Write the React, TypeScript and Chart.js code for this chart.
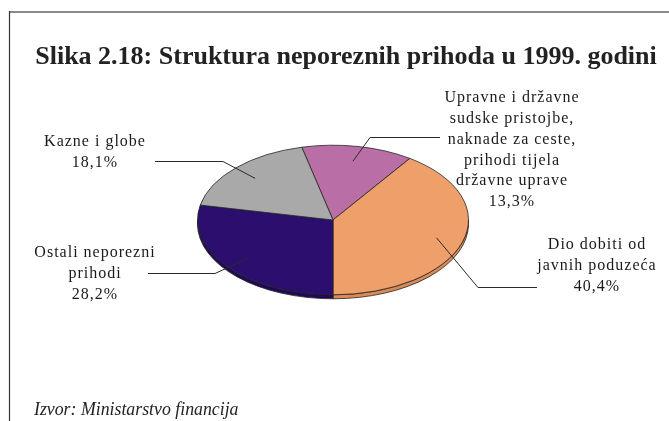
import React, { useEffect, useRef } from "react";
import { Chart, registerables } from "chart.js";

Chart.register(...registerables);

const title = "Slika 2.18: Struktura neporeznih prihoda u 1999. godini";
const source = "Izvor: Ministarstvo financija";

const categories = [
  "Upravne i državne sudske pristojbe, naknade za ceste, prihodi tijela državne uprave",
  "Dio dobiti od javnih poduzeća",
  "Ostali neporezni prihodi",
  "Kazne i globe",
];
const categoryLines = [
  ["Upravne i državne", "sudske pristojbe,", "naknade za ceste,", "prihodi tijela", "državne uprave"],
  ["Dio dobiti od", "javnih poduzeća"],
  ["Ostali neporezni", "prihodi"],
  ["Kazne i globe"],
];
const values = [13.3, 40.4, 28.2, 18.1];
const colors = ["#B96FA6", "#EE9F6A", "#2B0E6E", "#A9A9A9"];
const sideColors = ["#9E5A8C", "#D98A56", "#20085A", "#8F8F8F"];

// layout (label positions & leader line elbows), not data
const labelLayout = [
  { x: 512, y: 98, elbow: [370, 137], end: [440, 137] },
  { x: 597, y: 245, elbow: [478, 287], end: [537, 287] },
  { x: 95, y: 253, elbow: [215, 273], end: [148, 273] },
  { x: 95, y: 142, elbow: [223, 161], end: [155, 161] },
];

const SQUASH = 0.552;
const DEPTH = 4;
const LINE_H = 20.8;
const FONT = "'Liberation Serif', 'DejaVu Serif', serif";

const fmt = (v: number) => v.toFixed(1).replace(".", ",") + "%";

const pie3d = {
  id: "pie3d",
  beforeDatasetsDraw(chart: any) {
    const ctx = chart.ctx;
    const meta = chart.getDatasetMeta(0);
    const arcs = meta.data;
    if (!arcs.length) return;
    const cx = arcs[0].x;
    const cy = arcs[0].y;
    const r = arcs[0].outerRadius;
    ctx.save();
    arcs.forEach((arc: any, i: number) => {
      const a0 = arc.startAngle;
      const a1 = arc.endAngle;
      for (let k = -2; k <= 2; k++) {
        const lo = Math.max(a0, 2 * Math.PI * k);
        const hi = Math.min(a1, 2 * Math.PI * k + Math.PI);
        if (lo >= hi) continue;
        ctx.beginPath();
        ctx.ellipse(cx, cy, r, r * SQUASH, 0, lo, hi, false);
        ctx.ellipse(cx, cy + DEPTH, r, r * SQUASH, 0, hi, lo, true);
        ctx.closePath();
        ctx.fillStyle = sideColors[i];
        ctx.fill();
        ctx.strokeStyle = "#222";
        ctx.lineWidth = 0.8;
        ctx.stroke();
      }
    });
    ctx.restore();
    ctx.save();
    ctx.translate(0, cy);
    ctx.scale(1, SQUASH);
    ctx.translate(0, -cy);
  },
  afterDatasetsDraw(chart: any) {
    const ctx = chart.ctx;
    ctx.restore();
    const meta = chart.getDatasetMeta(0);
    const arcs = meta.data;
    const cx = arcs[0].x;
    const cy = arcs[0].y;
    const r = arcs[0].outerRadius;

    // leader lines
    ctx.save();
    ctx.strokeStyle = "#2a2a2a";
    ctx.lineWidth = 1;
    arcs.forEach((arc: any, i: number) => {
      const m = (arc.startAngle + arc.endAngle) / 2;
      const ax = cx + 0.8 * r * Math.cos(m);
      const ay = cy + 0.8 * r * SQUASH * Math.sin(m);
      const L = labelLayout[i];
      ctx.beginPath();
      ctx.moveTo(ax, ay);
      ctx.lineTo(L.elbow[0], L.elbow[1] + 0.5);
      ctx.lineTo(L.end[0], L.end[1] + 0.5);
      ctx.stroke();
    });
    ctx.restore();

    // labels
    ctx.save();
    ctx.fillStyle = "#1a1a1a";
    ctx.font = `16px ${FONT}`;
    ctx.textAlign = "center";
    ctx.textBaseline = "middle";
    (ctx as any).letterSpacing = "1px";
    arcs.forEach((_arc: any, i: number) => {
      const L = labelLayout[i];
      const lines = [...categoryLines[i], fmt(values[i])];
      lines.forEach((t, j) => ctx.fillText(t, L.x, L.y + j * LINE_H));
    });
    ctx.restore();

    // title, source and frame
    ctx.save();
    (ctx as any).letterSpacing = "0px";
    ctx.fillStyle = "#222";
    ctx.font = `bold 26px ${FONT}`;
    ctx.textAlign = "center";
    ctx.textBaseline = "alphabetic";
    ctx.fillText(title, 346, 64);
    ctx.font = `italic 17.8px ${FONT}`;
    ctx.textAlign = "left";
    ctx.fillText(source, 34, 415);
    ctx.strokeStyle = "#8a8a8a";
    ctx.lineWidth = 2;
    ctx.beginPath();
    ctx.moveTo(9, 12);
    ctx.lineTo(669, 12);
    ctx.stroke();
    ctx.strokeStyle = "#333";
    ctx.lineWidth = 1.2;
    ctx.beginPath();
    ctx.moveTo(9.5, 11);
    ctx.lineTo(9.5, 421);
    ctx.stroke();
    ctx.restore();
  },
};

export default function App() {
  const ref = useRef<HTMLCanvasElement | null>(null);
  useEffect(() => {
    document.body.style.margin = "0";
    const total = values.reduce((a, b) => a + b, 0);
    const chart = new Chart(ref.current as HTMLCanvasElement, {
      type: "pie",
      data: {
        labels: categories,
        datasets: [
          {
            data: values,
            backgroundColor: colors,
            borderColor: "#222",
            borderWidth: 1,
          },
        ],
      },
      options: {
        responsive: false,
        animation: false,
        // purple + orange end exactly at the bottom of the pie
        rotation: 180 - ((values[0] + values[1]) / total) * 360,
        layout: { padding: { left: 197, right: 200, top: 84, bottom: 65 } },
        plugins: {
          legend: { display: false },
          tooltip: { enabled: false },
          title: { display: false },
        },
      },
      plugins: [pie3d],
    });
    return () => chart.destroy();
  }, []);
  return (
    <div style={{ width: 669, height: 421, background: "#fff" }}>
      <canvas ref={ref} width={669} height={421} />
    </div>
  );
}
